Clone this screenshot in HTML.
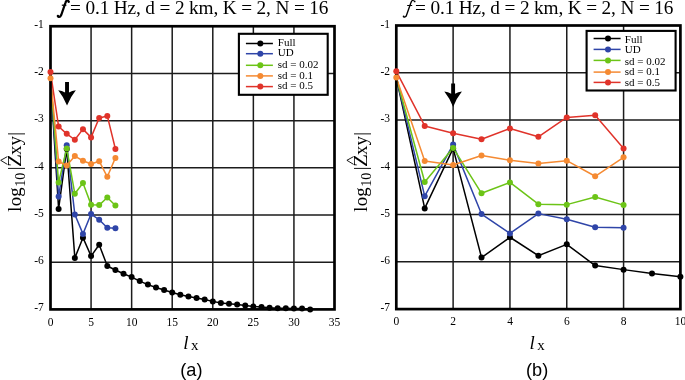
<!DOCTYPE html>
<html><head><meta charset="utf-8"><style>
html,body{margin:0;padding:0;background:#fff;width:685px;height:380px;overflow:hidden}
svg{display:block;will-change:transform}
text{font-family:"Liberation Serif",serif;fill:#000}
.tk{font-size:11.5px}
.lg{font-size:11px}
.tt{font-size:19.3px}
.fb{font-weight:bold;font-style:italic}
.fi{font-style:italic}
.xl{font-size:19px;font-style:italic}
.xs{font-size:15px}
.cap{font-family:"Liberation Sans",sans-serif;font-size:18.2px}
</style></head><body>
<svg width="685" height="380" viewBox="0 0 685 380">
<rect width="685" height="380" fill="#fff"/>
<path d="M91.07 26.25V309.40 M131.64 26.25V309.40 M172.21 26.25V309.40 M212.79 26.25V309.40 M253.36 26.25V309.40 M293.93 26.25V309.40 M50.50 73.44H334.50 M50.50 120.63H334.50 M50.50 167.82H334.50 M50.50 215.02H334.50 M50.50 262.21H334.50" stroke="#1c1c1c" stroke-width="1.5" fill="none"/>
<polyline points="50.50,78.16 58.61,208.88 66.73,148.95 74.84,257.96 82.96,237.67 91.07,256.07 99.19,244.75 107.30,265.98 115.41,269.99 123.53,273.77 131.64,277.07 139.76,281.09 147.87,284.62 155.99,287.55 164.10,290.05 172.21,292.41 180.33,294.77 188.44,296.52 196.56,297.89 204.67,299.49 212.79,301.38 220.90,302.98 229.01,303.69 237.13,304.59 245.24,305.48 253.36,306.47 261.47,307.09 269.59,307.80 277.70,308.31 285.81,308.31 293.93,308.50 302.04,308.46 310.16,309.40" stroke="#000000" stroke-width="1.5" fill="none" stroke-linejoin="round"/>
<polyline points="50.50,78.16 58.61,196.61 66.73,145.17 74.84,214.54 82.96,233.89 91.07,214.07 99.19,219.74 107.30,227.76 115.41,228.23" stroke="#2f45a8" stroke-width="1.5" fill="none" stroke-linejoin="round"/>
<polyline points="50.50,78.16 58.61,182.45 66.73,148.48 74.84,193.78 82.96,182.93 91.07,204.63 99.19,205.11 107.30,197.56 115.41,205.58" stroke="#6cc417" stroke-width="1.5" fill="none" stroke-linejoin="round"/>
<polyline points="50.50,78.16 58.61,161.50 66.73,165.47 74.84,156.03 82.96,160.75 91.07,164.05 99.19,161.22 107.30,176.79 115.41,157.91" stroke="#f58a32" stroke-width="1.5" fill="none" stroke-linejoin="round"/>
<polyline points="50.50,72.03 58.61,126.53 66.73,133.85 74.84,139.75 82.96,129.13 91.07,137.39 99.19,118.04 107.30,115.91 115.41,148.95" stroke="#e0332a" stroke-width="1.5" fill="none" stroke-linejoin="round"/>
<rect x="50.50" y="26.25" width="284.00" height="283.15" stroke="#000" stroke-width="2.7" fill="none"/>
<circle cx="58.61" cy="208.88" r="3.0" fill="#000000"/><circle cx="66.73" cy="148.95" r="3.0" fill="#000000"/><circle cx="74.84" cy="257.96" r="3.0" fill="#000000"/><circle cx="82.96" cy="237.67" r="3.0" fill="#000000"/><circle cx="91.07" cy="256.07" r="3.0" fill="#000000"/><circle cx="99.19" cy="244.75" r="3.0" fill="#000000"/><circle cx="107.30" cy="265.98" r="3.0" fill="#000000"/><circle cx="115.41" cy="269.99" r="3.0" fill="#000000"/><circle cx="123.53" cy="273.77" r="3.0" fill="#000000"/><circle cx="131.64" cy="277.07" r="3.0" fill="#000000"/><circle cx="139.76" cy="281.09" r="3.0" fill="#000000"/><circle cx="147.87" cy="284.62" r="3.0" fill="#000000"/><circle cx="155.99" cy="287.55" r="3.0" fill="#000000"/><circle cx="164.10" cy="290.05" r="3.0" fill="#000000"/><circle cx="172.21" cy="292.41" r="3.0" fill="#000000"/><circle cx="180.33" cy="294.77" r="3.0" fill="#000000"/><circle cx="188.44" cy="296.52" r="3.0" fill="#000000"/><circle cx="196.56" cy="297.89" r="3.0" fill="#000000"/><circle cx="204.67" cy="299.49" r="3.0" fill="#000000"/><circle cx="212.79" cy="301.38" r="3.0" fill="#000000"/><circle cx="220.90" cy="302.98" r="3.0" fill="#000000"/><circle cx="229.01" cy="303.69" r="3.0" fill="#000000"/><circle cx="237.13" cy="304.59" r="3.0" fill="#000000"/><circle cx="245.24" cy="305.48" r="3.0" fill="#000000"/><circle cx="253.36" cy="306.47" r="3.0" fill="#000000"/><circle cx="261.47" cy="307.09" r="3.0" fill="#000000"/><circle cx="269.59" cy="307.80" r="3.0" fill="#000000"/><circle cx="277.70" cy="308.31" r="3.0" fill="#000000"/><circle cx="285.81" cy="308.31" r="3.0" fill="#000000"/><circle cx="293.93" cy="308.50" r="3.0" fill="#000000"/><circle cx="302.04" cy="308.46" r="3.0" fill="#000000"/><circle cx="310.16" cy="309.40" r="3.0" fill="#000000"/>
<circle cx="58.61" cy="196.61" r="3.0" fill="#2f45a8"/><circle cx="66.73" cy="145.17" r="3.0" fill="#2f45a8"/><circle cx="74.84" cy="214.54" r="3.0" fill="#2f45a8"/><circle cx="82.96" cy="233.89" r="3.0" fill="#2f45a8"/><circle cx="91.07" cy="214.07" r="3.0" fill="#2f45a8"/><circle cx="99.19" cy="219.74" r="3.0" fill="#2f45a8"/><circle cx="107.30" cy="227.76" r="3.0" fill="#2f45a8"/><circle cx="115.41" cy="228.23" r="3.0" fill="#2f45a8"/>
<circle cx="58.61" cy="182.45" r="3.0" fill="#6cc417"/><circle cx="66.73" cy="148.48" r="3.0" fill="#6cc417"/><circle cx="74.84" cy="193.78" r="3.0" fill="#6cc417"/><circle cx="82.96" cy="182.93" r="3.0" fill="#6cc417"/><circle cx="91.07" cy="204.63" r="3.0" fill="#6cc417"/><circle cx="99.19" cy="205.11" r="3.0" fill="#6cc417"/><circle cx="107.30" cy="197.56" r="3.0" fill="#6cc417"/><circle cx="115.41" cy="205.58" r="3.0" fill="#6cc417"/>
<circle cx="50.50" cy="78.16" r="3.0" fill="#f58a32"/><circle cx="58.61" cy="161.50" r="3.0" fill="#f58a32"/><circle cx="66.73" cy="165.47" r="3.0" fill="#f58a32"/><circle cx="74.84" cy="156.03" r="3.0" fill="#f58a32"/><circle cx="82.96" cy="160.75" r="3.0" fill="#f58a32"/><circle cx="91.07" cy="164.05" r="3.0" fill="#f58a32"/><circle cx="99.19" cy="161.22" r="3.0" fill="#f58a32"/><circle cx="107.30" cy="176.79" r="3.0" fill="#f58a32"/><circle cx="115.41" cy="157.91" r="3.0" fill="#f58a32"/>
<circle cx="50.50" cy="72.03" r="3.0" fill="#e0332a"/><circle cx="58.61" cy="126.53" r="3.0" fill="#e0332a"/><circle cx="66.73" cy="133.85" r="3.0" fill="#e0332a"/><circle cx="74.84" cy="139.75" r="3.0" fill="#e0332a"/><circle cx="82.96" cy="129.13" r="3.0" fill="#e0332a"/><circle cx="91.07" cy="137.39" r="3.0" fill="#e0332a"/><circle cx="99.19" cy="118.04" r="3.0" fill="#e0332a"/><circle cx="107.30" cy="115.91" r="3.0" fill="#e0332a"/><circle cx="115.41" cy="148.95" r="3.0" fill="#e0332a"/>
<path d="M65.08 82.10H68.98V92.50Q72.03 90.70 75.83 90.20Q70.63 96.60 67.03 105.60Q63.43 96.60 58.23 90.20Q62.03 90.70 65.08 92.50Z" fill="#000"/>
<rect x="238.90" y="33.80" width="88.80" height="61.00" fill="#fff" stroke="#000" stroke-width="2.1"/>
<path d="M245.90 43.50H272.90" stroke="#000000" stroke-width="1.5"/>
<circle cx="260.30" cy="43.50" r="3.0" fill="#000000"/>
<text x="277.80" y="45.80" class="lg">Full</text>
<path d="M245.90 53.70H272.90" stroke="#2f45a8" stroke-width="1.5"/>
<circle cx="260.30" cy="53.70" r="3.0" fill="#2f45a8"/>
<text x="277.80" y="56.30" class="lg">UD</text>
<path d="M245.90 65.30H272.90" stroke="#6cc417" stroke-width="1.5"/>
<circle cx="260.30" cy="65.30" r="3.0" fill="#6cc417"/>
<text x="277.80" y="67.50" class="lg">sd = 0.02</text>
<path d="M245.90 75.90H272.90" stroke="#f58a32" stroke-width="1.5"/>
<circle cx="260.30" cy="75.90" r="3.0" fill="#f58a32"/>
<text x="277.80" y="78.50" class="lg">sd = 0.1</text>
<path d="M245.90 86.60H272.90" stroke="#e0332a" stroke-width="1.5"/>
<circle cx="260.30" cy="86.60" r="3.0" fill="#e0332a"/>
<text x="277.80" y="89.30" class="lg">sd = 0.5</text>
<text x="50.50" y="325.80" class="tk" text-anchor="middle">0</text>
<text x="91.07" y="325.80" class="tk" text-anchor="middle">5</text>
<text x="131.64" y="325.80" class="tk" text-anchor="middle">10</text>
<text x="172.21" y="325.80" class="tk" text-anchor="middle">15</text>
<text x="212.79" y="325.80" class="tk" text-anchor="middle">20</text>
<text x="253.36" y="325.80" class="tk" text-anchor="middle">25</text>
<text x="293.93" y="325.80" class="tk" text-anchor="middle">30</text>
<text x="334.50" y="325.80" class="tk" text-anchor="middle">35</text>
<text x="34.20" y="27.80" class="tk">-1</text>
<text x="34.20" y="75.07" class="tk">-2</text>
<text x="34.20" y="122.34" class="tk">-3</text>
<text x="34.20" y="169.61" class="tk">-4</text>
<text x="34.20" y="216.88" class="tk">-5</text>
<text x="34.20" y="264.15" class="tk">-6</text>
<text x="34.20" y="311.42" class="tk">-7</text>
<g fill="none" stroke="#000" stroke-linecap="round"><path d="M58.3 16.7C59.6 17.2 60.6 16.4 61.2 15.0L65.4 2.8C65.9 1.2 66.9 0.2 68.1 0.4" stroke-width="2.2"/><path d="M61.8 5.2H66.4" stroke-width="1.2" stroke-linecap="butt"/></g><circle cx="57.9" cy="16.0" r="1.2"/><circle cx="68.7" cy="1.7" r="1.2"/>
<text x="70.10" y="13.8" class="tt" textLength="258.3" lengthAdjust="spacing">= 0.1 Hz, d = 2 km, K = 2, N = 16</text>
<text transform="translate(20.70,211.29) rotate(-90)" x="-0.38" y="0" style="font-size:18.8px">l</text>
<text transform="translate(20.70,205.63) rotate(-90)" x="-0.72" y="0" style="font-size:18.8px">o</text>
<text transform="translate(20.70,196.02) rotate(-90)" x="-0.81" y="0" style="font-size:18.8px">g</text>
<text transform="translate(25.05,185.60) rotate(-90)" x="-1.25" y="0" style="font-size:14.2px">1</text>
<text transform="translate(25.05,179.26) rotate(-90)" x="-0.54" y="0" style="font-size:14.2px">0</text>
<text transform="translate(20.90,168.87) rotate(-90)" x="-1.41" y="0" style="font-size:18.8px">|</text>
<text transform="translate(20.80,166.00) rotate(-90) scale(1.12,1)" x="-0.90" y="0" style="font-size:18.8px">Z</text>
<text transform="translate(20.60,154.80) rotate(-90)" x="-0.17" y="0" style="font-size:18.8px">x</text>
<text transform="translate(20.60,145.20) rotate(-90)" x="-0.23" y="0" style="font-size:18.8px">y</text>
<text transform="translate(20.70,134.37) rotate(-90)" x="-1.41" y="0" style="font-size:18.8px">|</text>
<path d="M7.40 156.60L0.70 160.30L7.40 164.40" stroke="#000" stroke-width="0.9" fill="none" stroke-linejoin="miter"/>
<text x="183.30" y="348.9" class="xl">l</text>
<text x="191.10" y="349.6" class="xs">x</text>
<text x="180.30" y="376.4" class="cap">(a)</text>
<path d="M453.12 25.50V309.10 M509.94 25.50V309.10 M566.76 25.50V309.10 M623.58 25.50V309.10 M396.30 72.77H680.40 M396.30 120.03H680.40 M396.30 167.30H680.40 M396.30 214.57H680.40 M396.30 261.83H680.40" stroke="#1c1c1c" stroke-width="1.5" fill="none"/>
<polyline points="396.30,77.49 424.71,208.42 453.12,148.39 481.53,257.58 509.94,237.25 538.35,255.69 566.76,244.34 595.17,265.61 623.58,269.63 651.99,273.41 680.40,276.72" stroke="#000000" stroke-width="1.5" fill="none" stroke-linejoin="round"/>
<polyline points="396.30,77.49 424.71,196.13 453.12,144.61 481.53,214.09 509.94,233.47 538.35,213.62 566.76,219.29 595.17,227.33 623.58,227.80" stroke="#2f45a8" stroke-width="1.5" fill="none" stroke-linejoin="round"/>
<polyline points="396.30,77.49 424.71,181.95 453.12,147.92 481.53,193.30 509.94,182.43 538.35,204.17 566.76,204.64 595.17,197.08 623.58,205.11" stroke="#6cc417" stroke-width="1.5" fill="none" stroke-linejoin="round"/>
<polyline points="396.30,77.49 424.71,160.97 453.12,164.94 481.53,155.48 509.94,160.21 538.35,163.52 566.76,160.68 595.17,176.28 623.58,157.37" stroke="#f58a32" stroke-width="1.5" fill="none" stroke-linejoin="round"/>
<polyline points="396.30,71.35 424.71,125.94 453.12,133.27 481.53,139.18 509.94,128.54 538.35,136.81 566.76,117.43 595.17,115.31 623.58,148.39" stroke="#e0332a" stroke-width="1.5" fill="none" stroke-linejoin="round"/>
<rect x="396.30" y="25.50" width="284.10" height="283.60" stroke="#000" stroke-width="2.7" fill="none"/>
<circle cx="424.71" cy="208.42" r="3.0" fill="#000000"/><circle cx="453.12" cy="148.39" r="3.0" fill="#000000"/><circle cx="481.53" cy="257.58" r="3.0" fill="#000000"/><circle cx="509.94" cy="237.25" r="3.0" fill="#000000"/><circle cx="538.35" cy="255.69" r="3.0" fill="#000000"/><circle cx="566.76" cy="244.34" r="3.0" fill="#000000"/><circle cx="595.17" cy="265.61" r="3.0" fill="#000000"/><circle cx="623.58" cy="269.63" r="3.0" fill="#000000"/><circle cx="651.99" cy="273.41" r="3.0" fill="#000000"/><circle cx="680.40" cy="276.72" r="3.0" fill="#000000"/>
<circle cx="424.71" cy="196.13" r="3.0" fill="#2f45a8"/><circle cx="453.12" cy="144.61" r="3.0" fill="#2f45a8"/><circle cx="481.53" cy="214.09" r="3.0" fill="#2f45a8"/><circle cx="509.94" cy="233.47" r="3.0" fill="#2f45a8"/><circle cx="538.35" cy="213.62" r="3.0" fill="#2f45a8"/><circle cx="566.76" cy="219.29" r="3.0" fill="#2f45a8"/><circle cx="595.17" cy="227.33" r="3.0" fill="#2f45a8"/><circle cx="623.58" cy="227.80" r="3.0" fill="#2f45a8"/>
<circle cx="424.71" cy="181.95" r="3.0" fill="#6cc417"/><circle cx="453.12" cy="147.92" r="3.0" fill="#6cc417"/><circle cx="481.53" cy="193.30" r="3.0" fill="#6cc417"/><circle cx="509.94" cy="182.43" r="3.0" fill="#6cc417"/><circle cx="538.35" cy="204.17" r="3.0" fill="#6cc417"/><circle cx="566.76" cy="204.64" r="3.0" fill="#6cc417"/><circle cx="595.17" cy="197.08" r="3.0" fill="#6cc417"/><circle cx="623.58" cy="205.11" r="3.0" fill="#6cc417"/>
<circle cx="396.30" cy="77.49" r="3.0" fill="#f58a32"/><circle cx="424.71" cy="160.97" r="3.0" fill="#f58a32"/><circle cx="453.12" cy="164.94" r="3.0" fill="#f58a32"/><circle cx="481.53" cy="155.48" r="3.0" fill="#f58a32"/><circle cx="509.94" cy="160.21" r="3.0" fill="#f58a32"/><circle cx="538.35" cy="163.52" r="3.0" fill="#f58a32"/><circle cx="566.76" cy="160.68" r="3.0" fill="#f58a32"/><circle cx="595.17" cy="176.28" r="3.0" fill="#f58a32"/><circle cx="623.58" cy="157.37" r="3.0" fill="#f58a32"/>
<circle cx="396.30" cy="71.35" r="3.0" fill="#e0332a"/><circle cx="424.71" cy="125.94" r="3.0" fill="#e0332a"/><circle cx="453.12" cy="133.27" r="3.0" fill="#e0332a"/><circle cx="481.53" cy="139.18" r="3.0" fill="#e0332a"/><circle cx="509.94" cy="128.54" r="3.0" fill="#e0332a"/><circle cx="538.35" cy="136.81" r="3.0" fill="#e0332a"/><circle cx="566.76" cy="117.43" r="3.0" fill="#e0332a"/><circle cx="595.17" cy="115.31" r="3.0" fill="#e0332a"/><circle cx="623.58" cy="148.39" r="3.0" fill="#e0332a"/>
<path d="M451.17 83.40H455.07V93.80Q458.12 92.00 461.92 91.50Q456.72 97.90 453.12 106.90Q449.52 97.90 444.32 91.50Q448.12 92.00 451.17 93.80Z" fill="#000"/>
<rect x="586.60" y="30.90" width="89.00" height="59.60" fill="#fff" stroke="#000" stroke-width="2.1"/>
<path d="M593.60 38.50H620.60" stroke="#000000" stroke-width="1.5"/>
<circle cx="608.00" cy="38.50" r="3.0" fill="#000000"/>
<text x="624.80" y="42.60" class="lg">Full</text>
<path d="M593.60 49.40H620.60" stroke="#2f45a8" stroke-width="1.5"/>
<circle cx="608.00" cy="49.40" r="3.0" fill="#2f45a8"/>
<text x="624.80" y="52.50" class="lg">UD</text>
<path d="M593.60 60.40H620.60" stroke="#6cc417" stroke-width="1.5"/>
<circle cx="608.00" cy="60.40" r="3.0" fill="#6cc417"/>
<text x="624.80" y="64.50" class="lg">sd = 0.02</text>
<path d="M593.60 72.10H620.60" stroke="#f58a32" stroke-width="1.5"/>
<circle cx="608.00" cy="72.10" r="3.0" fill="#f58a32"/>
<text x="624.80" y="75.20" class="lg">sd = 0.1</text>
<path d="M593.60 82.40H620.60" stroke="#e0332a" stroke-width="1.5"/>
<circle cx="608.00" cy="82.40" r="3.0" fill="#e0332a"/>
<text x="624.80" y="85.70" class="lg">sd = 0.5</text>
<text x="396.40" y="324.90" class="tk" text-anchor="middle">0</text>
<text x="453.22" y="324.90" class="tk" text-anchor="middle">2</text>
<text x="510.04" y="324.90" class="tk" text-anchor="middle">4</text>
<text x="566.86" y="324.90" class="tk" text-anchor="middle">6</text>
<text x="623.68" y="324.90" class="tk" text-anchor="middle">8</text>
<text x="680.50" y="324.90" class="tk" text-anchor="middle">10</text>
<text x="380.40" y="27.80" class="tk">-1</text>
<text x="380.40" y="75.07" class="tk">-2</text>
<text x="380.40" y="122.34" class="tk">-3</text>
<text x="380.40" y="169.61" class="tk">-4</text>
<text x="380.40" y="216.88" class="tk">-5</text>
<text x="380.40" y="264.15" class="tk">-6</text>
<text x="380.40" y="311.42" class="tk">-7</text>
<g fill="none" stroke="#000" stroke-linecap="round"><path d="M403.9 16.9C405.0 17.5 406.0 16.6 406.5 15.2L410.8 3.0C411.4 1.3 412.3 0.1 413.5 0.2" stroke-width="1.35"/><path d="M407.2 5.5H412.2" stroke-width="1.0" stroke-linecap="butt"/></g><circle cx="403.6" cy="16.4" r="0.9"/><circle cx="414.6" cy="1.4" r="0.95"/>
<text x="415.10" y="13.8" class="tt" textLength="258.3" lengthAdjust="spacing">= 0.1 Hz, d = 2 km, K = 2, N = 16</text>
<text transform="translate(366.90,211.29) rotate(-90)" x="-0.38" y="0" style="font-size:18.8px">l</text>
<text transform="translate(366.90,205.63) rotate(-90)" x="-0.72" y="0" style="font-size:18.8px">o</text>
<text transform="translate(366.90,196.02) rotate(-90)" x="-0.81" y="0" style="font-size:18.8px">g</text>
<text transform="translate(371.25,185.60) rotate(-90)" x="-1.25" y="0" style="font-size:14.2px">1</text>
<text transform="translate(371.25,179.26) rotate(-90)" x="-0.54" y="0" style="font-size:14.2px">0</text>
<text transform="translate(367.10,168.87) rotate(-90)" x="-1.41" y="0" style="font-size:18.8px">|</text>
<text transform="translate(367.00,166.00) rotate(-90) scale(1.12,1)" x="-0.90" y="0" style="font-size:18.8px">Z</text>
<text transform="translate(366.80,154.80) rotate(-90)" x="-0.17" y="0" style="font-size:18.8px">x</text>
<text transform="translate(366.80,145.20) rotate(-90)" x="-0.23" y="0" style="font-size:18.8px">y</text>
<text transform="translate(366.90,134.37) rotate(-90)" x="-1.41" y="0" style="font-size:18.8px">|</text>
<path d="M353.60 156.60L346.90 160.30L353.60 164.40" stroke="#000" stroke-width="0.9" fill="none" stroke-linejoin="miter"/>
<text x="529.50" y="348.9" class="xl">l</text>
<text x="537.30" y="349.6" class="xs">x</text>
<text x="526.00" y="376.4" class="cap">(b)</text>
</svg>
</body></html>
